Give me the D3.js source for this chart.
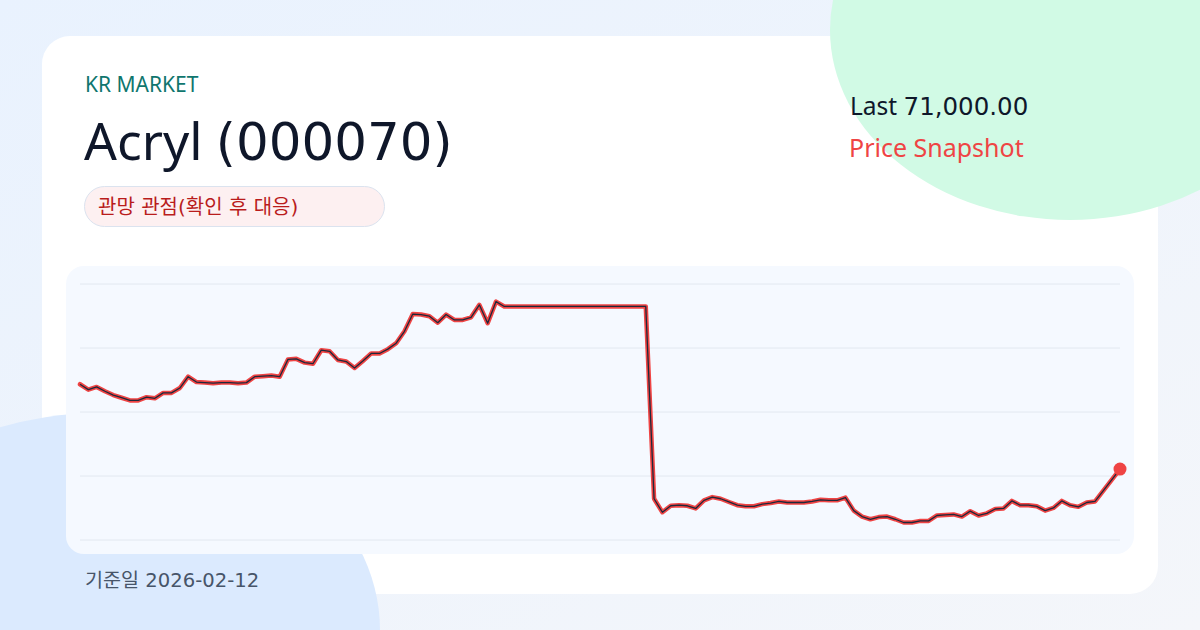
<!DOCTYPE html>
<html>
<head>
<meta charset="utf-8">
<script src="https://cdn.jsdelivr.net/npm/d3@7"></script>
<style>
  html, body { margin: 0; padding: 0; background: #eef4fc; }
  svg { display: block; }
  text { font-family: "Noto Sans", "Noto Sans CJK KR", sans-serif; }
</style>
</head>
<body>
<svg id="chart" width="1200" height="630"></svg>
<script>
// ---- data ----
const market = "KR MARKET";
const title = "Acryl (000070)";
const badgeText = "관망 관점(확인 후 대응)";
const lastLabel = "Last 71,000.00";
const subLabel = "Price Snapshot";
const dateLabel = "기준일 2026-02-12";

const prices = [
  78850, 78350, 78600, 78200, 77850, 77600, 77350, 77350, 77650, 77550,
  78050, 78050, 78500, 79550, 79050, 79000, 78950, 79000, 79000, 78950,
  79000, 79550, 79600, 79650, 79550, 81150, 81200, 80850, 80750, 82000,
  81900, 81100, 80950, 80350, 81000, 81700, 81700, 82100, 82650, 83750,
  85350, 85300, 85150, 84550, 85300, 84800, 84800, 85050, 86200, 84500,
  86500, 86050, 86050, 86050, 86050, 86050, 86050, 86050, 86050, 86050,
  86050, 86050, 86050, 86050, 86050, 86050, 86050, 86050, 86050, 68250,
  67000, 67600, 67650, 67600, 67350, 68100, 68400, 68250, 67950, 67650,
  67550, 67550, 67750, 67850, 68000, 67900, 67900, 67900, 68000, 68150,
  68100, 68100, 68350, 67150, 66600, 66350, 66550, 66600, 66350, 66050,
  66050, 66200, 66200, 66700, 66750, 66800, 66600, 67100, 66700, 66900,
  67300, 67350, 68050, 67650, 67650, 67550, 67150, 67400, 68050, 67650,
  67500, 67900, 68000, 69000, 70000, 71000
];
const yDomain = [64430, 88130];
const gridCount = 5;

// ---- drawing ----
const svg = d3.select("#chart");
const defs = svg.append("defs");
const bg = defs.append("linearGradient").attr("id", "bg")
  .attr("x1", "0").attr("y1", "0").attr("x2", "1").attr("y2", "1");
bg.append("stop").attr("offset", "0").attr("stop-color", "#e9f2fe");
bg.append("stop").attr("offset", "1").attr("stop-color", "#f4f6fa");

svg.append("rect").attr("width", 1200).attr("height", 630).attr("fill", "url(#bg)");

// card
svg.append("rect").attr("x", 42).attr("y", 36).attr("width", 1116).attr("height", 558)
  .attr("rx", 28).attr("fill", "#ffffff");

// decorative blobs
svg.append("ellipse").attr("cx", 1070).attr("cy", 30).attr("rx", 240).attr("ry", 190)
  .attr("fill", "#d1fae5");
svg.append("ellipse").attr("cx", 100).attr("cy", 630).attr("rx", 280).attr("ry", 217)
  .attr("fill", "#dbeafe");

// chart panel
svg.append("rect").attr("x", 66).attr("y", 266).attr("width", 1068).attr("height", 288)
  .attr("rx", 18).attr("fill", "#f5f9ff");

const x = d3.scaleLinear().domain([0, prices.length - 1]).range([80, 1120]);
const y = d3.scaleLinear().domain(yDomain).range([540, 284]);

const gridVals = d3.range(gridCount).map(i => yDomain[0] + (yDomain[1] - yDomain[0]) * i / (gridCount - 1));
svg.append("g").selectAll("line").data(gridVals).join("line")
  .attr("x1", 80).attr("x2", 1120)
  .attr("y1", d => y(d)).attr("y2", d => y(d))
  .attr("stroke", "#e2e8f0").attr("stroke-width", 1);

const line = d3.line().x((d, i) => x(i)).y(d => y(d));
svg.append("path").datum(prices).attr("d", line)
  .attr("fill", "none").attr("stroke", "#ef4444").attr("stroke-width", 4.5)
  .attr("stroke-linejoin", "round").attr("stroke-linecap", "round");
svg.append("path").datum(prices).attr("d", line)
  .attr("fill", "none").attr("stroke", "#1e293b").attr("stroke-width", 1.3)
  .attr("stroke-linejoin", "round");

svg.append("circle").attr("cx", x(prices.length - 1)).attr("cy", y(prices[prices.length - 1]))
  .attr("r", 6.5).attr("fill", "#ef4444");

// text helper: digits & punctuation use DejaVu Sans, letters use Noto Sans
function mixedText(parent, str, attrs) {
  const t = parent.append("text");
  Object.entries(attrs).forEach(([k, v]) => t.attr(k, v));
  const runs = str.match(/[0-9(),.\-]+|[^0-9(),.\-]+/g);
  runs.forEach(r => {
    const span = t.append("tspan").text(r);
    if (/^[0-9(),.\-]+$/.test(r)) span.style("font-family", '"DejaVu Sans", sans-serif');
  });
  return t;
}

svg.append("text").attr("x", 85).attr("y", 92).attr("font-size", 21)
  .attr("fill", "#0f766e").text(market);
mixedText(svg, title, { x: 84, y: 160, "font-size": 51.5, fill: "#0f172a" });

svg.append("rect").attr("x", 84.5).attr("y", 186.5).attr("width", 300).attr("height", 40)
  .attr("rx", 20).attr("fill", "#fdf0f1").attr("stroke", "#dbe3ef").attr("stroke-width", 1);
svg.append("text").attr("x", 98).attr("y", 213.5).attr("font-size", 20)
  .style("font-family", '"DejaVu Sans", "Noto Sans CJK KR", sans-serif')
  .attr("fill", "#b91c1c").text(badgeText);

mixedText(svg, lastLabel, { x: 850, y: 115, "font-size": 24.5, fill: "#0f172a" });
svg.append("text").attr("x", 849).attr("y", 157).attr("font-size", 25)
  .attr("fill", "#ef4444").text(subLabel);

svg.append("text").attr("x", 85).attr("y", 587).attr("font-size", 19.6)
  .style("font-family", '"DejaVu Sans", "Noto Sans CJK KR", sans-serif')
  .attr("fill", "#475569").text(dateLabel);
</script>
</body>
</html>
